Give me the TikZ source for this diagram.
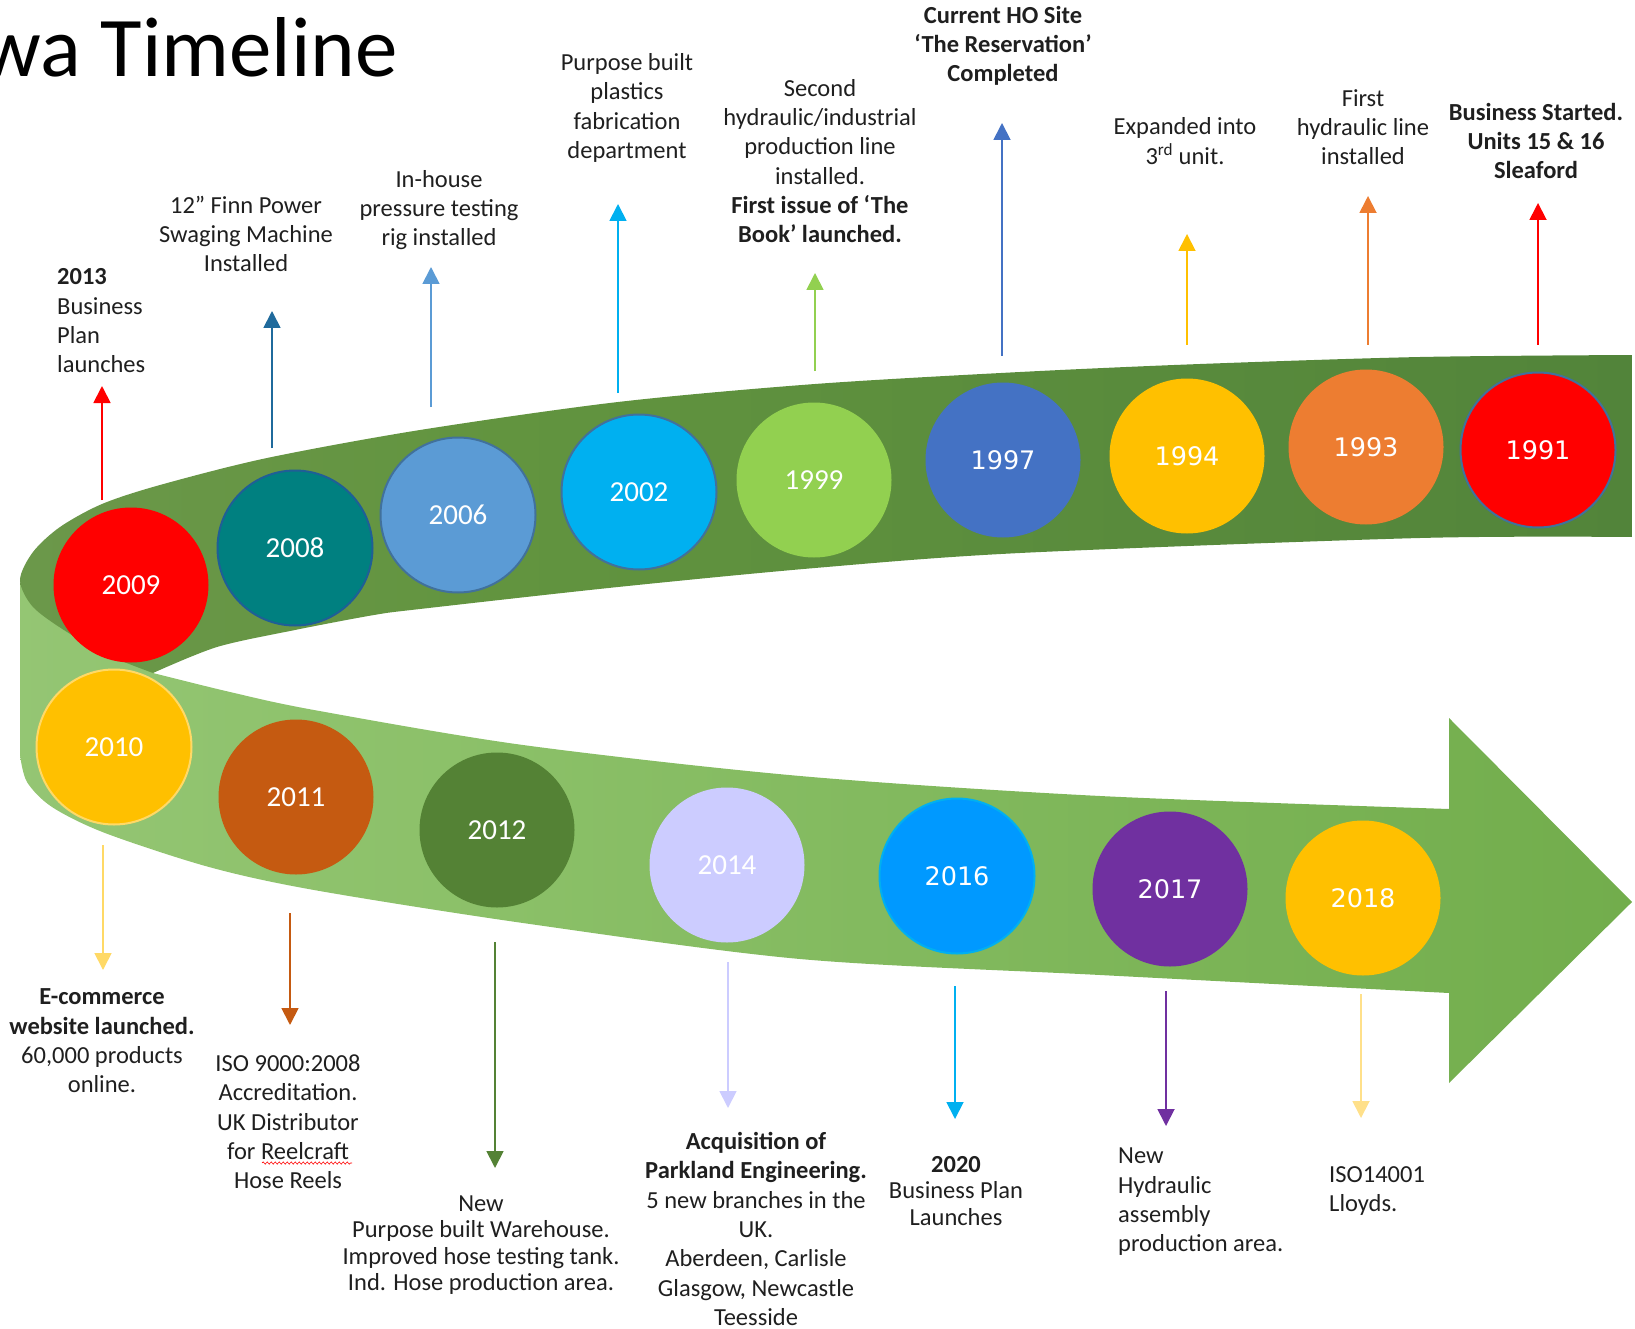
\documentclass[tikz,border=0pt]{standalone}
\usepackage{fontspec}
\setmainfont{Carlito}
\newfontfamily\vfont{DejaVu Sans}
\usetikzlibrary{arrows.meta,decorations.pathmorphing}

\definecolor{txt}{HTML}{1F1F1F}
\definecolor{dkA}{HTML}{7B9E5D}
\definecolor{dkB}{HTML}{62943F}
\definecolor{dkC}{HTML}{52843A}
\definecolor{dkD}{HTML}{3E6229}
\definecolor{ltA}{HTML}{A3CF86}
\definecolor{ltB}{HTML}{8BC068}
\definecolor{ltC}{HTML}{72AD4C}
\definecolor{ltD}{HTML}{609C3E}
\definecolor{cRed}{HTML}{FF0000}
\definecolor{cTeal}{HTML}{008080}
\definecolor{cTealEdge}{HTML}{1F5F96}
\definecolor{cSky}{HTML}{5B9BD5}
\definecolor{cEdge}{HTML}{41719C}
\definecolor{cCyan}{HTML}{00B0F0}
\definecolor{cLime}{HTML}{92D050}
\definecolor{cBlue}{HTML}{4472C4}
\definecolor{cGold}{HTML}{FFC000}
\definecolor{cGoldEdge}{HTML}{FFD966}
\definecolor{cOrange}{HTML}{ED7D31}
\definecolor{cRust}{HTML}{C55A11}
\definecolor{cGreen}{HTML}{548235}
\definecolor{cLav}{HTML}{CCCCFF}
\definecolor{cAzure}{HTML}{0099FF}
\definecolor{cPurple}{HTML}{7030A0}
\definecolor{aTeal}{HTML}{1F6A9C}
\definecolor{aPale}{HTML}{FFE08A}

\pgfdeclarehorizontalshading{darkband}{100bp}{color(0bp)=(dkA); color(40bp)=(dkB); color(75bp)=(dkC); color(100bp)=(dkD)}
\pgfdeclarehorizontalshading{lightband}{100bp}{color(0bp)=(ltA); color(40bp)=(ltB); color(75bp)=(ltC); color(100bp)=(ltD)}

\begin{document}
\begin{tikzpicture}[x=1pt,y=-1pt,
  yr/.style={circle, minimum size=155pt, inner sep=0pt, text=white, font=\fontsize{29}{34}\selectfont},
  yrv/.style={yr, font=\vfont\fontsize{25.5}{30}\selectfont},
  lab/.style={align=center, inner sep=0pt, text=txt, font=\fontsize{24.5}{29.3}\selectfont},
  labt/.style={lab, font=\fontsize{24.5}{26.5}\selectfont},
  arr/.style={line width=1.8pt, -{Triangle[width=17pt,length=17pt]}},
]
\useasboundingbox (0,0) rectangle (1635,1329);

% front (light) band with arrow
\shade[shading=lightband]
  plot[smooth] coordinates {(153,673) (230,692) (314,710) (523,745) (800,776) (1100,796) (1449,809)}
  -- (1449,718) -- (1632,902) -- (1449,1083) -- (1449,993)
  -- plot[smooth] coordinates {(1449,993) (1100,975) (800,959) (523,923) (314,890) (209,867) (105,833) (52,807) (27,782) (20,755)}
  -- (20,584) -- (40,592) -- (100,625) -- (140,660) -- cycle;

% back (dark) band
\shade[shading=darkband]
  plot[smooth] coordinates {(1632,355) (1420,357) (1200,364) (1020,372) (815,384) (618,402) (420,430) (267,458) (160,485) (102,504) (60,527) (33,552) (20,580) (33,607) (67,632) (110,656) (153,673)}
  -- plot[smooth] coordinates {(153,673) (217,647) (295,630) (374,615) (420,609) (618,587) (815,568) (1020,553) (1420,538) (1632,537)}
  -- cycle;

% title
\node[anchor=base east, inner sep=0pt, text=black, font=\fontsize{85}{90}\selectfont] (title) at (398,77) {wa Timeline};

% year circles
\node[yr, fill=cRed] (c2009) at (131,585) {2009};
\node[yr, fill=cTeal, draw=cTealEdge, line width=2pt] (c2008) at (295,548) {2008};
\node[yr, fill=cSky, draw=cEdge, line width=2pt] (c2006) at (458,515) {2006};
\node[yr, fill=cCyan, draw=cEdge, line width=2pt] (c2002) at (639,492) {2002};
\node[yr, fill=cLime] (c1999) at (814,480) {1999};
\node[yrv, fill=cBlue] (c1997) at (1003,460) {1997};
\node[yrv, fill=cGold] (c1994) at (1187,456) {1994};
\node[yrv, fill=cOrange] (c1993) at (1366,447) {1993};
\node[yrv, fill=cRed, draw=cEdge, line width=2pt] (c1991) at (1538,450) {1991};
\node[yr, fill=cGold, draw=cGoldEdge, line width=2pt] (c2010) at (114,747) {2010};
\node[yr, fill=cRust] (c2011) at (296,797) {2011};
\node[yr, fill=cGreen] (c2012) at (497,830) {2012};
\node[yr, fill=cLav] (c2014) at (727,865) {2014};
\node[yrv, fill=cAzure, draw=cCyan, line width=2pt] (c2016) at (957,876) {2016};
\node[yrv, fill=cPurple] (c2017) at (1170,889) {2017};
\node[yrv, fill=cGold] (c2018) at (1363,898) {2018};

% labels above
\node[lab, align=left, anchor=west] (t2009) at (57,321) {\textbf{2013}\\Business\\Plan\\launches};
\node[lab] (t2008) at (246,234) {12” Finn Power\\Swaging Machine\\Installed};
\node[lab] (t2006) at (439,210) {In-house\\pressure testing\\rig installed};
\node[lab] (t2002) at (627,108) {Purpose built\\plastics\\fabrication\\department};
\node[lab] (t1999) at (820,161) {Second\\hydraulic/industrial\\production line\\installed.\\\textbf{First issue of ‘The}\\\textbf{Book’ launched.}};
\node[lab, font=\bfseries\fontsize{24.5}{29.3}\selectfont] (t1997) at (1003,46) {Current HO Site\\‘The Reservation’\\Completed};
\node[lab] (t1994) at (1185,141) {Expanded into\\3\textsuperscript{rd} unit.};
\node[lab] (t1993) at (1363,127) {First\\hydraulic line\\installed};
\node[lab, font=\bfseries\fontsize{24.5}{29.3}\selectfont] (t1991) at (1536,141) {Business Started.\\Units 15 \& 16\\Sleaford};

% labels below
\node[lab] (t2010) at (102,1041) {\textbf{E-commerce}\\\textbf{website launched.}\\60,000 products\\online.};
\node[lab] (t2011) at (288,1122) {ISO 9000:2008\\Accreditation.\\UK Distributor\\for Reelcraft\\Hose Reels};
\node[labt] (t2012) at (481,1245) {New\\Purpose built Warehouse.\\Improved hose testing tank.\\Ind. Hose production area.};
\node[lab] (t2014) at (756,1229) {\textbf{Acquisition of}\\\textbf{Parkland Engineering.}\\5 new branches in the\\UK.\\Aberdeen, Carlisle\\Glasgow, Newcastle\\Teesside};
\node[labt] (t2016) at (956,1191) {\textbf{2020}\\Business Plan\\Launches};
\node[lab, align=left, anchor=west] (t2017) at (1118,1202) {New\\Hydraulic\\assembly\\production area.};
\node[lab, align=left, anchor=west] (t2018) at (1329,1191) {ISO14001\\Lloyds.};

% spell-check underline under Reelcraft
\draw[red, line width=0.6pt, decorate, decoration={snake, amplitude=1.1pt, segment length=4pt}] (262,1163) -- (352,1163);

% arrow end coordinates
\coordinate (s2009) at (102,500);  \coordinate (e2009) at (102,386);
\coordinate (s2008) at (272,448);  \coordinate (e2008) at (272,311);
\coordinate (s2006) at (431,407);  \coordinate (e2006) at (431,267);
\coordinate (s2002) at (618,393);  \coordinate (e2002) at (618,204);
\coordinate (s1999) at (815,371);  \coordinate (e1999) at (815,273);
\coordinate (s1997) at (1002,356); \coordinate (e1997) at (1002,123);
\coordinate (s1994) at (1187,345); \coordinate (e1994) at (1187,234);
\coordinate (s1993) at (1368,345); \coordinate (e1993) at (1368,196);
\coordinate (s1991) at (1538,345); \coordinate (e1991) at (1538,203);
\coordinate (s2010) at (103,845);  \coordinate (e2010) at (103,970);
\coordinate (s2011) at (290,913);  \coordinate (e2011) at (290,1025);
\coordinate (s2012) at (495,942);  \coordinate (e2012) at (495,1168);
\coordinate (s2014) at (728,962);  \coordinate (e2014) at (728,1108);
\coordinate (s2016) at (955,986);  \coordinate (e2016) at (955,1119);
\coordinate (s2017) at (1166,991); \coordinate (e2017) at (1166,1126);
\coordinate (s2018) at (1361,994); \coordinate (e2018) at (1361,1118);

\draw[arr, cRed] (s2009) -- (e2009);
\draw[arr, aTeal] (s2008) -- (e2008);
\draw[arr, cSky] (s2006) -- (e2006);
\draw[arr, cCyan] (s2002) -- (e2002);
\draw[arr, cLime] (s1999) -- (e1999);
\draw[arr, cBlue] (s1997) -- (e1997);
\draw[arr, cGold] (s1994) -- (e1994);
\draw[arr, cOrange] (s1993) -- (e1993);
\draw[arr, cRed] (s1991) -- (e1991);
\draw[arr, cGoldEdge] (s2010) -- (e2010);
\draw[arr, cRust] (s2011) -- (e2011);
\draw[arr, cGreen] (s2012) -- (e2012);
\draw[arr, cLav] (s2014) -- (e2014);
\draw[arr, cCyan] (s2016) -- (e2016);
\draw[arr, cPurple] (s2017) -- (e2017);
\draw[arr, aPale] (s2018) -- (e2018);
\end{tikzpicture}
\end{document}
